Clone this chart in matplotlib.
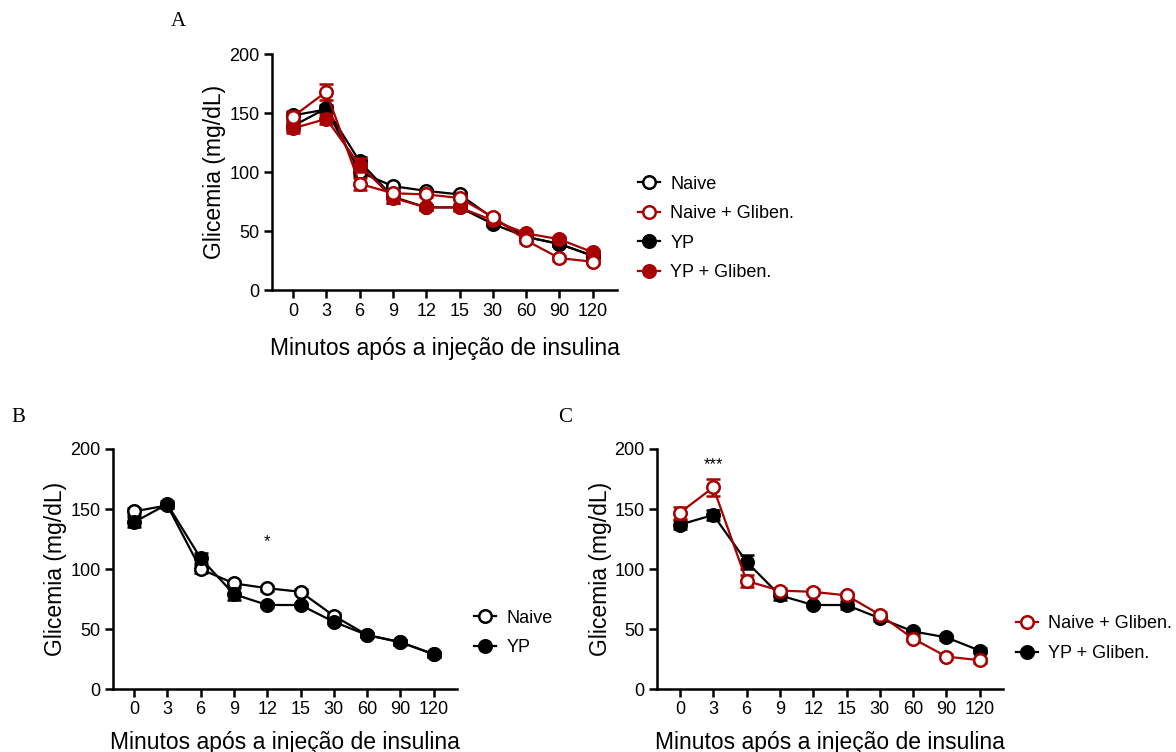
import matplotlib
matplotlib.use("Agg")
import matplotlib.pyplot as plt
from matplotlib.lines import Line2D
import numpy as np

plt.rcParams['font.family'] = ['Liberation Sans', 'DejaVu Sans']

times = ['0', '3', '6', '9', '12', '15', '30', '60', '90', '120']

naive = [148, 153, 100, 88, 84, 81, 61, 45, 39, 29]
naive_err = [3, 2, 3, 2, 2, 2, 2, 2, 2, 2]
yp = [139, 154, 109, 79, 70, 70, 56, 45, 39, 29]
yp_err = [4, 3, 4, 5, 2, 2, 2, 2, 2, 2]
naive_g = [147, 168, 90, 82, 81, 78, 62, 42, 27, 24]
naive_g_err = [5, 7, 5, 2, 2, 2, 2, 2, 2, 2]
yp_g = [137, 145, 106, 78, 70, 70, 59, 48, 43, 32]
yp_g_err = [4, 4, 6, 4, 2, 3, 2, 2, 2, 2]

RED = '#A80000'
BLK = 'black'
W, H = 1176, 752

fig = plt.figure(figsize=(W / 100, H / 100), dpi=100)


def make_ax(left, right, top, bottom, tick0):
    ax = fig.add_axes([left / W, 1 - bottom / H, (right - left) / W, (bottom - top) / H])
    sp = 33.3
    ax.set_xlim((left - tick0) / sp, (right - tick0) / sp)
    ax.set_ylim(0, 200)
    ax.set_yticks([0, 50, 100, 150, 200])
    ax.set_xticks(range(len(times)))
    ax.set_xticklabels(times)
    for s in ['top', 'right']:
        ax.spines[s].set_visible(False)
    for s in ['left', 'bottom']:
        ax.spines[s].set_linewidth(1.8)
    ax.tick_params(axis='both', direction='out', length=6, width=1.8, labelsize=13, pad=3)
    ax.set_ylabel('Glicemia (mg/dL)', fontsize=16.5)
    ax.set_xlabel('Minutos após a injeção de insulina', fontsize=16.5)
    ax.patch.set_alpha(0)
    return ax


def series(ax, vals, err, color, filled, z):
    x = np.arange(len(vals))
    ax.errorbar(x, vals, yerr=err, color=color, lw=1.6, marker='o', ms=9,
                mfc=color if filled else 'white', mec=color, mew=1.8,
                capsize=5, capthick=1.6, elinewidth=1.6, zorder=z, clip_on=False)


def legend(x, y, entries):
    handles = [Line2D([0], [0], color=c, lw=1.6, marker='o', ms=9,
                      mfc=c if f else 'white', mec=c, mew=1.8) for (_, c, f) in entries]
    labels = [e[0] for e in entries]
    fig.legend(handles, labels, loc='center left', bbox_to_anchor=(x / W, 1 - y / H),
               frameon=False, fontsize=13, handlelength=1.2, handletextpad=0.6,
               labelspacing=0.7, borderpad=0, borderaxespad=0)


# Panel A
axA = make_ax(272, 617, 54, 290, 293)
series(axA, naive, naive_err, BLK, False, 3)
series(axA, yp, yp_err, BLK, True, 4)
series(axA, yp_g, yp_g_err, RED, True, 5)
series(axA, naive_g, naive_g_err, RED, False, 6)
axA.yaxis.set_label_coords(-0.133, 0.5)
axA.xaxis.set_label_coords(0.5, -0.199)
legend(638, 228.5, [('Naive', BLK, False), ('Naive + Gliben.', RED, False),
                    ('YP', BLK, True), ('YP + Gliben.', RED, True)])

# Panel B
axB = make_ax(113, 457, 449, 689, 134)
series(axB, naive, naive_err, BLK, False, 3)
series(axB, yp, yp_err, BLK, True, 4)
axB.yaxis.set_label_coords(-0.134, 0.5)
axB.xaxis.set_label_coords(0.5, -0.175)
axB.text(4, 123, '*', ha='center', va='center', fontsize=12)
legend(474, 633, [('Naive', BLK, False), ('YP', BLK, True)])

# Panel C
axC = make_ax(657, 1003, 449, 689, 680)
series(axC, naive_g, naive_g_err, RED, False, 4)
series(axC, yp_g, yp_g_err, BLK, True, 3)
axC.yaxis.set_label_coords(-0.13, 0.5)
axC.xaxis.set_label_coords(0.5, -0.175)
axC.text(1, 187, '***', ha='center', va='center', fontsize=12)
legend(1016, 638.5, [('Naive + Gliben.', RED, False), ('YP + Gliben.', BLK, True)])

# Panel letters
for lab, (px, py) in {'A': (178, 22), 'B': (18, 417), 'C': (565, 417)}.items():
    fig.text(px / W, 1 - py / H, lab, family='Liberation Serif', fontsize=15,
             ha='center', va='center')

fig.savefig('out.png', dpi=100)
